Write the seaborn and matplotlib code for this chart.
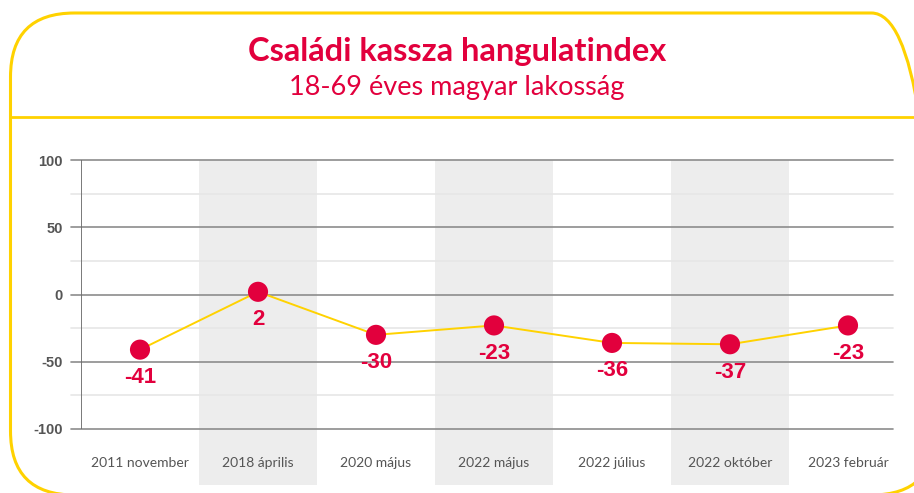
import matplotlib.pyplot as plt
import seaborn as sns
import pandas as pd
from matplotlib.patches import FancyBboxPatch

# data
periods = ["2011 november", "2018 április", "2020 május", "2022 május",
           "2022 július", "2022 október", "2023 február"]
index_values = [-41, 2, -30, -23, -36, -37, -23]
y_ticks = [100, 50, 0, -50, -100]
y_minor = [75, 25, -25, -75]

RED = "#E2003D"
YELLOW = "#FFD200"
BAND = "#EDEDED"

df = pd.DataFrame({"pos": range(len(periods)), "value": index_values})

sns.set_style("white")
plt.rcParams["font.family"] = ["Lato", "DejaVu Sans"]

W, H = 914, 493
fig = plt.figure(figsize=(W / 100, H / 100), dpi=100)

# axes area in pixels: x 81..907, y 160..429
ax = fig.add_axes([81 / W, 1 - 429 / H, (907 - 81) / W, (429 - 160) / H])
ax.set_xlim(-0.5, len(periods) - 0.5)
ax.set_ylim(-100, 100)
for s in ax.spines.values():
    s.set_visible(False)

# alternating grey bands, running down behind the tick labels
for i in range(len(periods)):
    if i % 2 == 1:
        ax.axvspan(i - 0.5, i + 0.5, ymin=-0.208, ymax=1, color=BAND,
                   lw=0, clip_on=False, zorder=0)

x0 = -10 / 826
x1 = (893 - 81) / 826
for v in y_minor:
    ax.axhline(v, xmin=x0, xmax=x1, color="#E6E6E6", lw=1.2, clip_on=False, zorder=1)
for v in y_ticks:
    ax.axhline(v, xmin=x0, xmax=x1, color="#8C8C8C", lw=1.2, clip_on=False, zorder=1)
ax.axvline(-0.5, ymin=0, ymax=1, color="#6E6E6E", lw=1.3, zorder=1)

sns.lineplot(data=df, x="pos", y="value", color=YELLOW, lw=1.4, ax=ax, zorder=2)
sns.scatterplot(data=df, x="pos", y="value", color=RED, s=210, edgecolor="none",
                ax=ax, zorder=3)

for x, v in zip(df["pos"], df["value"]):
    ax.annotate(str(v), (x, v), xytext=(0, -20), textcoords="offset points",
                ha="center", va="center", color=RED, fontsize=16,
                fontweight="bold", family="Liberation Sans", zorder=4)

ax.set_yticks(y_ticks)
ax.set_yticklabels([str(t) for t in y_ticks], family="Liberation Sans",
                   fontweight="bold", color="#555555", fontsize=10.5)
ax.tick_params(axis="y", length=0, pad=13)
ax.set_xticks(range(len(periods)))
ax.set_xticklabels(periods, color="#555555", fontsize=10)
ax.tick_params(axis="x", length=0, pad=20)
ax.set_xlabel("")
ax.set_ylabel("")

# yellow rounded frame and divider
frame = FancyBboxPatch((10.5 / W, 1 - 495 / H), (935 - 10) / W, (495 - 13) / H,
                       boxstyle="round,pad=0,rounding_size=0.07",
                       transform=fig.transFigure, fill=False, ec=YELLOW, lw=2.2,
                       mutation_aspect=W / H)
fig.patches.append(frame)
fig.add_artist(plt.Line2D([10.5 / W, 1], [1 - 117 / H, 1 - 117 / H],
                          transform=fig.transFigure, color=YELLOW, lw=2))

fig.text(0.5, 1 - 51 / H, "Családi kassza hangulatindex", ha="center", va="center",
         color=RED, fontsize=23.5, fontweight="bold")
fig.text(0.5, 1 - 87 / H, "18-69 éves magyar lakosság", ha="center", va="center",
         color=RED, fontsize=19.5)

fig.savefig("out.png", dpi=100)
